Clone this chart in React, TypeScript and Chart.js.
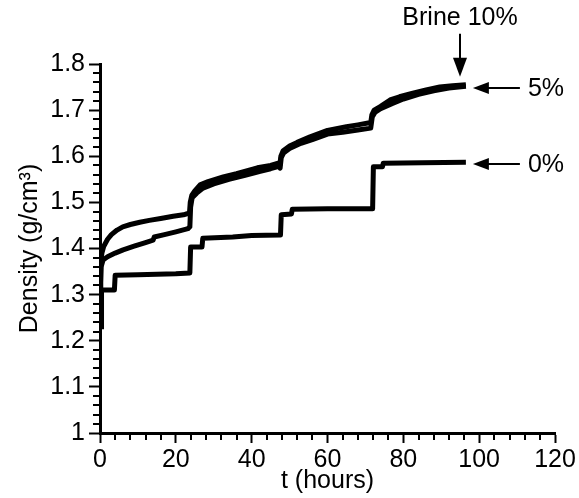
import React, { useEffect, useRef } from 'react';
import { Chart, registerables } from 'chart.js';

Chart.register(...registerables);

// ---- data (t in hours, density in g/cm3) ----
const brine10T = [0, 0.2, 0.5, 1, 2, 3, 4.5, 6, 8, 10.5, 13, 16, 19.3, 22, 23.6, 23.8, 24.2, 25, 26.4, 28.5, 32.5, 36, 41.5, 45, 47, 47.4, 47.7, 48.3, 50, 52, 55.4, 60, 65, 68, 71.4, 71.7, 72.3, 74, 76.5, 79, 82.5, 86, 89.6, 93, 96.5];
const brine10D = [1.30, 1.37, 1.39, 1.405, 1.42, 1.43, 1.44, 1.447, 1.452, 1.457, 1.461, 1.465, 1.470, 1.473, 1.477, 1.50, 1.515, 1.525, 1.538, 1.545, 1.555, 1.562, 1.575, 1.580, 1.585, 1.580, 1.600, 1.612, 1.622, 1.630, 1.642, 1.656, 1.664, 1.668, 1.673, 1.690, 1.700, 1.708, 1.722, 1.729, 1.737, 1.744, 1.750, 1.753, 1.755];

const brine5T = [0, 0.3, 0.8, 2, 4, 6.1, 9, 12, 14, 14.3, 17, 20, 23.2, 23.7, 23.9, 24.3, 25.5, 27, 30, 34, 38, 42, 45, 47.2, 47.5, 47.8, 48.4, 50, 53, 56, 60, 64, 68, 71.4, 71.8, 72.5, 74, 77, 80, 84, 88, 92, 96.5];
const brine5D = [1.30, 1.36, 1.375, 1.382, 1.39, 1.397, 1.405, 1.413, 1.418, 1.425, 1.43, 1.436, 1.443, 1.447, 1.49, 1.51, 1.52, 1.53, 1.54, 1.55, 1.558, 1.567, 1.573, 1.578, 1.574, 1.597, 1.607, 1.617, 1.628, 1.636, 1.648, 1.652, 1.657, 1.661, 1.685, 1.695, 1.703, 1.714, 1.724, 1.734, 1.742, 1.748, 1.752];

const brine0T = [0.4, 0.4, 3.8, 4, 10, 20, 23.7, 23.9, 26.9, 27.1, 35, 40, 47.6, 47.8, 50.5, 50.7, 60, 65, 71.9, 72.1, 74.5, 74.7, 85, 96.5];
const brine0D = [1.225, 1.31, 1.31, 1.342, 1.343, 1.345, 1.347, 1.403, 1.403, 1.422, 1.425, 1.428, 1.429, 1.473, 1.475, 1.485, 1.486, 1.486, 1.486, 1.577, 1.577, 1.585, 1.586, 1.587];

const seriesNames = ['Brine 10%', '5%', '0%'];
const xMin = 0, xMax = 120, xMajor = 20, xMinor = 4;
const yMin = 1, yMax = 1.8, yMajor = 0.1, yMinor = 0.02;
const xTitle = 't (hours)';
const yTitle = 'Density (g/cm³)';

const FONT = "'Liberation Sans', Arial, sans-serif";
const FSIZE = 25;

const toPts = (t: number[], d: number[]) => t.map((v, i) => ({ x: v, y: d[i] }));

const minorTicks = {
  id: 'minorTicks',
  afterDraw(chart: any) {
    const { ctx, scales } = chart;
    const xs = scales.x, ys = scales.y;
    ctx.save();
    ctx.strokeStyle = '#000';
    ctx.lineWidth = 2;
    ctx.beginPath();
    for (let v = xMin; v <= xMax + 1e-9; v += xMinor) {
      if (Math.abs(v / xMajor - Math.round(v / xMajor)) < 1e-6) continue;
      const px = Math.round(xs.getPixelForValue(v));
      ctx.moveTo(px, ys.bottom);
      ctx.lineTo(px, ys.bottom + 7);
    }
    for (let i = 0; i <= Math.round((yMax - yMin) / yMinor); i++) {
      const v = yMin + i * yMinor;
      if (i % Math.round(yMajor / yMinor) === 0) continue;
      const py = Math.round(ys.getPixelForValue(v));
      ctx.moveTo(xs.left - 7, py);
      ctx.lineTo(xs.left, py);
    }
    ctx.stroke();
    ctx.restore();
  },
};

function arrowHead(ctx: CanvasRenderingContext2D, tx: number, ty: number, dir: 'down' | 'left') {
  ctx.beginPath();
  if (dir === 'down') {
    ctx.moveTo(tx, ty);
    ctx.lineTo(tx - 7, ty - 19);
    ctx.lineTo(tx + 7, ty - 19);
  } else {
    ctx.moveTo(tx, ty);
    ctx.lineTo(tx + 16, ty - 6);
    ctx.lineTo(tx + 16, ty + 6);
  }
  ctx.closePath();
  ctx.fill();
}

const annotations = {
  id: 'annotations',
  afterDatasetsDraw(chart: any) {
    const { ctx } = chart;
    const endOf = (i: number) => {
      const d = chart.getDatasetMeta(i).data;
      return d[d.length - 1];
    };
    ctx.save();
    ctx.fillStyle = '#000';
    ctx.strokeStyle = '#000';
    ctx.lineWidth = 2;
    ctx.font = `${FSIZE}px ${FONT}`;
    // Brine 10% : down arrow
    const e10 = endOf(0);
    const ax = Math.round(e10.x) - 6;
    const tipY = e10.y - 8;
    ctx.beginPath();
    ctx.moveTo(ax, e10.y - 51);
    ctx.lineTo(ax, tipY - 15);
    ctx.stroke();
    arrowHead(ctx, ax, tipY, 'down');
    ctx.textAlign = 'center';
    ctx.textBaseline = 'middle';
    ctx.fillText(seriesNames[0], ax, e10.y - 67);
    // left arrows for 5% and 0%
    [1, 2].forEach((i) => {
      const e = endOf(i);
      const tx = e.x + 7;
      const ty = Math.round(e.y + 1.5);
      ctx.beginPath();
      ctx.moveTo(tx + 12, ty);
      ctx.lineTo(tx + 47, ty);
      ctx.stroke();
      arrowHead(ctx, tx, ty, 'left');
      ctx.textAlign = 'left';
      ctx.textBaseline = 'middle';
      ctx.fillText(seriesNames[i], tx + 55, ty + 1);
    });
    ctx.restore();
  },
};

export default function App() {
  const ref = useRef<HTMLCanvasElement>(null);
  useEffect(() => {
    if (!ref.current) return;
    const lineStyle = {
      borderColor: '#000',
      backgroundColor: '#000',
      borderWidth: 5,
      pointRadius: 0,
      tension: 0,
      fill: false,
      borderCapStyle: 'butt' as const,
      borderJoinStyle: 'round' as const,
    };
    const chart = new Chart(ref.current, {
      type: 'line',
      data: {
        datasets: [
          { label: seriesNames[0], data: toPts(brine10T, brine10D), ...lineStyle },
          { label: seriesNames[1], data: toPts(brine5T, brine5D), ...lineStyle },
          { label: seriesNames[2], data: toPts(brine0T, brine0D), ...lineStyle },
        ],
      },
      options: {
        animation: false,
        responsive: false,
        maintainAspectRatio: false,
        layout: { padding: { left: 0, right: 24, top: 64, bottom: 0 } },
        plugins: { legend: { display: false }, tooltip: { enabled: false } },
        scales: {
          x: {
            type: 'linear',
            min: xMin,
            max: xMax,
            ticks: {
              stepSize: xMajor,
              color: '#000',
              padding: 2,
              maxRotation: 0,
              font: { family: FONT, size: FSIZE },
            },
            grid: { drawOnChartArea: false, drawTicks: true, tickLength: 10, tickWidth: 2, tickColor: '#000' },
            border: { display: true, color: '#000', width: 3 },
            title: { display: true, text: xTitle, color: '#000', font: { family: FONT, size: FSIZE }, padding: { top: 0, bottom: 1.5 } },
            afterFit: (s: any) => { s.height = 65; s.paddingRight = 0; s.paddingLeft = 0; },
          },
          y: {
            type: 'linear',
            min: yMin,
            max: yMax,
            ticks: {
              stepSize: yMajor,
              color: '#000',
              padding: 4,
              font: { family: FONT, size: FSIZE },
              callback: (v: any) => String(Number(Number(v).toFixed(1))),
            },
            grid: { drawOnChartArea: false, drawTicks: true, tickLength: 11, tickWidth: 2, tickColor: '#000' },
            border: { display: true, color: '#000', width: 3 },
            title: { display: true, text: yTitle, color: '#000', font: { family: FONT, size: FSIZE }, padding: { top: 15, bottom: 0 } },
            afterFit: (s: any) => { s.width = 100; s.paddingTop = 0; s.paddingBottom = 0; },
          },
        },
      },
      plugins: [minorTicks, annotations],
    });
    return () => chart.destroy();
  }, []);
  return (
    <div style={{ position: 'fixed', left: 0, top: 0, width: 579, height: 498, background: '#fff' }}>
      <canvas ref={ref} width={579} height={498} style={{ display: 'block' }} />
    </div>
  );
}
